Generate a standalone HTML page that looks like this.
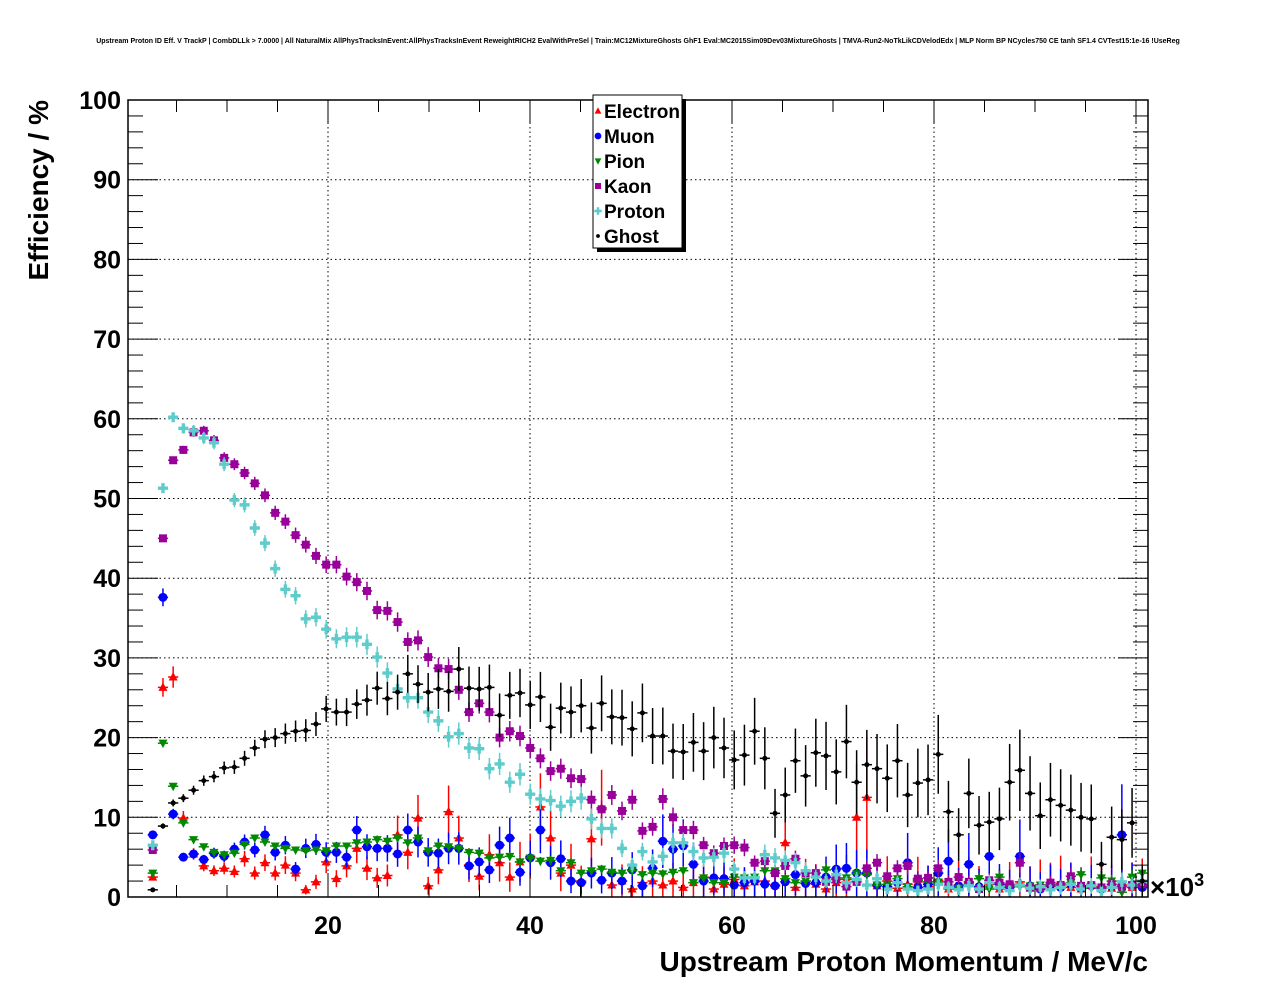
<!DOCTYPE html>
<html><head><meta charset="utf-8"><style>
html,body{margin:0;padding:0;background:#fff;}
svg{display:block;font-family:"Liberation Sans",sans-serif;}
</style></head><body>
<svg id="chart" width="1276" height="996" viewBox="0 0 1276 996" xmlns="http://www.w3.org/2000/svg">
<rect x="0" y="0" width="1276" height="996" fill="#fff"/>
<text x="638" y="43" font-size="7" font-weight="bold" text-anchor="middle">Upstream Proton ID Eff. V TrackP | CombDLLk &gt; 7.0000 | All NaturalMix AllPhysTracksInEvent:AllPhysTracksInEvent ReweightRICH2 EvalWithPreSel | Train:MC12MixtureGhosts GhF1 Eval:MC2015Sim09Dev03MixtureGhosts | TMVA-Run2-NoTkLikCDVelodEdx | MLP Norm BP NCycles750 CE tanh SF1.4 CVTest15:1e-16 !UseReg</text>
<g id="grid"></g>
<g id="marks"></g>
<rect x="128" y="100" width="1020" height="797" fill="none" stroke="#000" stroke-width="1.5"/>
<g id="axes"></g>
<text x="1150" y="896" font-size="26" font-weight="bold">×10<tspan font-size="18" dy="-10">3</tspan></text>
<text x="1148" y="971" font-size="28" font-weight="bold" text-anchor="end">Upstream Proton Momentum / MeV/c</text>
<text transform="translate(48,100) rotate(-90)" font-size="28" font-weight="bold" text-anchor="end">Efficiency / %</text>
<g id="legend">
<rect x="597" y="99" width="89" height="153" fill="#000"/>
<rect x="593" y="95" width="89" height="153" fill="#fff" stroke="#000" stroke-width="1"/>
</g>
</svg>
<script>
const binStart = 2.65, binStep = 1.01;
const electron = [2.5,26.3,27.6,9.9,5.4,3.9,3.3,3.6,3.2,4.8, 3.0,4.3,3.0,4.0,3.0,0.9,1.9,4.4,2.3,3.9, 6.1,3.6,2.4,2.7,7.8,5.6,9.9,1.4,3.4,10.7, 7.4,4.0,2.6,5.3,4.3,2.5,4.4,5.1,11.3,7.4, 3.0,4.0,2.0,7.3,11.2,1.5,2.0,1.0,1.8,2.0, 1.5,2.0,1.2,1.8,2.5,1.0,1.6,2.2,1.4,1.9, 2.0,1.5,6.8,1.2,2.0,1.6,1.0,1.8,2.2,10.0, 12.5,1.4,2.0,1.1,1.6,1.9,1.3,2.1,1.0,1.5, 1.8,1.2,1.6,1.0,1.4,1.9,1.1,1.5,1.3,1.7, 1.2,1.0,1.6,1.3,1.1,1.5,1.2,1.4];
const muon = [7.8,37.6,10.4,5.0,5.4,4.7,5.5,5.1,6.0,6.9, 5.9,7.8,5.6,6.5,3.5,6.1,6.6,5.6,5.6,5.0, 8.4,6.3,6.1,6.1,5.4,8.4,6.9,5.6,5.5,6.1, 6.1,3.9,4.4,3.4,6.5,7.4,3.1,4.9,8.4,4.3, 4.8,2.0,1.8,3.0,2.1,3.0,2.0,3.4,1.4,3.6, 7.0,6.0,6.4,4.1,2.0,2.4,2.3,1.5,1.8,2.0, 1.6,1.4,1.9,2.8,1.7,1.8,2.5,3.5,3.6,3.0, 3.0,1.5,1.3,1.8,4.3,1.2,1.6,3.0,4.5,1.4, 4.1,1.3,5.1,1.6,1.2,5.1,1.4,1.0,1.5,1.2, 1.6,1.1,1.4,1.0,1.3,7.8,1.5,1.2];
const pion = [3.0,19.3,13.9,9.3,7.2,6.3,5.6,5.3,5.5,6.6, 7.4,6.9,6.4,6.1,5.9,5.8,5.9,5.8,6.4,6.4, 6.8,6.9,7.2,7.0,7.4,6.8,7.4,5.8,6.4,6.3, 6.1,5.6,5.5,4.9,5.0,5.1,4.4,4.9,4.5,4.6, 3.3,4.3,3.0,3.3,3.5,3.1,3.0,3.3,2.8,3.0, 2.9,3.1,3.3,1.8,2.4,1.8,1.8,2.5,2.4,2.5, 3.3,3.3,2.3,1.8,2.0,2.5,3.4,2.4,2.4,2.9, 2.8,1.5,1.6,2.3,1.3,2.1,1.9,1.9,1.1,1.1, 1.6,2.3,1.0,2.5,1.4,1.3,1.4,1.5,1.5,1.1, 1.8,2.8,1.1,2.4,2.0,0.6,2.5,3.0];
const kaon = [5.9,45.0,54.8,56.1,58.3,58.5,57.3,55.1,54.3,53.2, 51.9,50.4,48.2,47.1,45.4,44.2,42.8,41.7,41.7,40.2, 39.5,38.4,36.0,35.9,34.5,32.0,32.2,30.1,28.7,28.6, 26.0,23.2,24.3,23.2,20.0,20.8,20.2,18.7,17.4,15.8, 16.1,14.9,14.8,12.2,11.0,12.8,10.8,12.2,8.3,8.8, 12.3,10.0,8.4,8.4,6.5,5.5,6.4,6.5,6.2,4.3, 4.5,3.0,3.9,4.8,3.0,3.0,1.9,2.2,1.3,1.9, 3.6,4.3,2.6,3.6,3.9,2.3,2.4,3.6,1.9,2.5, 1.9,1.0,2.1,1.8,1.6,4.3,1.2,1.1,1.8,1.5, 2.6,1.4,1.5,1.2,1.6,1.3,1.5,1.6];
const proton = [6.5,51.3,60.2,58.8,58.5,57.6,57.0,54.3,49.8,49.2, 46.3,44.4,41.2,38.6,37.8,34.9,35.1,33.6,32.4,32.6, 32.6,31.7,30.1,28.1,26.1,25.0,25.0,23.2,22.1,20.1, 20.5,18.7,18.6,16.1,16.7,14.4,15.4,12.9,12.3,12.1, 11.4,12.0,12.4,9.8,8.6,8.6,6.1,4.0,5.7,4.4, 5.1,6.8,6.8,5.7,4.9,5.0,5.5,3.5,2.4,2.4, 5.3,4.9,4.6,4.3,3.3,2.5,2.0,2.8,1.8,2.2, 1.5,2.3,1.0,1.8,1.0,0.8,1.0,1.6,1.2,0.9, 1.4,1.0,1.8,1.2,0.8,1.5,1.1,1.3,0.9,1.2, 1.6,1.0,1.4,0.8,1.2,1.9,1.5,2.0];
const ghost = [0.9,8.9,11.8,12.4,13.4,14.6,15.1,16.2,16.3,17.4, 18.7,19.8,20.0,20.5,20.8,20.9,21.7,23.6,23.2,23.2, 24.2,24.7,26.2,24.9,25.7,28.0,26.7,25.7,26.1,25.8, 28.6,26.2,26.1,26.3,22.8,25.3,25.6,24.1,25.1,21.3, 23.7,23.2,24.0,21.2,24.3,22.6,22.5,21.1,23.1,20.2, 20.2,18.3,18.2,19.4,18.3,20.0,18.7,17.2,17.8,20.8, 17.4,10.5,12.8,17.1,15.2,18.1,17.7,15.7,19.5,14.4, 16.6,16.1,14.9,17.1,12.8,14.3,14.7,17.9,10.7,7.8, 13.0,9.0,9.4,9.8,14.4,15.9,13.0,10.2,12.2,11.5, 10.9,10.0,9.8,4.1,7.5,7.2,9.3,2.0];
const xTicks = [20,40,60,80,100];
const yTicks = [0,10,20,30,40,50,60,70,80,90,100];
const legendNames = ["Electron","Muon","Pion","Kaon","Proton","Ghost"];

const NS = "http://www.w3.org/2000/svg";
const X0 = 126, XS = 10.1, Y0 = 897, YS = 7.97;
const xp = v => X0 + v * XS;
const yp = v => Y0 - v * YS;
function mk(tag, attrs, parent) {
  const e = document.createElementNS(NS, tag);
  for (const k in attrs) e.setAttribute(k, attrs[k]);
  parent.appendChild(e);
  return e;
}
const grid = document.getElementById('grid');
const axes = document.getElementById('axes');
const marks = document.getElementById('marks');

xTicks.forEach(t => {
  const l = mk('line', {x1: xp(t), x2: xp(t), y1: 100, y2: 897, stroke: '#000', 'stroke-width': 1, 'stroke-dasharray': '1.5,3'}, grid);
  
  
});
yTicks.forEach(t => {
  if (t === 0 || t === 100) return;
  const l = mk('line', {x1: 128, x2: 1148, y1: yp(t), y2: yp(t), stroke: '#000', 'stroke-width': 1, 'stroke-dasharray': '1.5,3'}, grid);
  
  
});
for (let v = 0; v <= 100; v += 2) {
  const major = v % 10 === 0;
  const len = major ? 30 : 15;
  mk('line', {x1: 128, x2: 128 + len, y1: yp(v), y2: yp(v), stroke: '#000', 'stroke-width': 1}, axes);
  mk('line', {x1: 1148, x2: 1148 - len, y1: yp(v), y2: yp(v), stroke: '#000', 'stroke-width': 1}, axes);
}
for (let v = 5; v <= 100; v += 5) {
  const major = v % 20 === 0;
  const len = major ? 24 : 12;
  mk('line', {x1: xp(v), x2: xp(v), y1: 897, y2: 897 - len, stroke: '#000', 'stroke-width': 1}, axes);
  mk('line', {x1: xp(v), x2: xp(v), y1: 100, y2: 100 + len, stroke: '#000', 'stroke-width': 1}, axes);
}
yTicks.forEach(t => {
  const tx = mk('text', {x: 121, y: yp(t) + 9, 'font-size': 25, 'font-weight': 'bold', 'text-anchor': 'end'}, axes);
  tx.textContent = t;
  
  
});
xTicks.forEach(t => {
  const tx = mk('text', {x: xp(t), y: 934, 'font-size': 25, 'font-weight': 'bold', 'text-anchor': 'middle'}, axes);
  tx.textContent = t;
  
  
});

function marker(kind, cx, cy, color, parent, s) {
  s = s || 1;
  if (kind === 'tri') return mk('polygon', {points: `${cx},${cy-5*s} ${cx-4.5*s},${cy+3.5*s} ${cx+4.5*s},${cy+3.5*s}`, fill: color}, parent);
  if (kind === 'tridown') return mk('polygon', {points: `${cx},${cy+5*s} ${cx-4.5*s},${cy-3.5*s} ${cx+4.5*s},${cy-3.5*s}`, fill: color}, parent);
  if (kind === 'circ') return mk('circle', {cx: cx, cy: cy, r: 4.5*s, fill: color}, parent);
  if (kind === 'sq') return mk('rect', {x: cx-4*s, y: cy-4*s, width: 8*s, height: 8*s, fill: color}, parent);
  if (kind === 'cross') return mk('path', {d: `M${cx-5*s},${cy-1.7*s}h${3.3*s}v${-3.3*s}h${3.4*s}v${3.3*s}h${3.3*s}v${3.4*s}h${-3.3*s}v${3.3*s}h${-3.4*s}v${-3.3*s}h${-3.3*s}z`, fill: color}, parent);
  return mk('circle', {cx: cx, cy: cy, r: 2.5*s, fill: color}, parent);
}

const series = [
  {name: 'electron', vals: electron, color: '#ff0000', kind: 'tri', ek: 0.5},
  {name: 'muon', vals: muon, color: '#0000ff', kind: 'circ', ek: 0.4},
  {name: 'pion', vals: pion, color: '#008800', kind: 'tridown', ek: 0.1},
  {name: 'kaon', vals: kaon, color: '#990099', kind: 'sq', ek: 0.12},
  {name: 'proton', vals: proton, color: '#5fcccc', kind: 'cross', ek: 0.15},
  {name: 'ghost', vals: ghost, color: '#000000', kind: 'dot', ek: 0.25}
];
series.forEach(sr => {
  const g = mk('g', {}, marks);
  
  
  sr.vals.forEach((v, i) => {
    const p = binStart + i * binStep;
    const cx = xp(p), cy = yp(v);
    const err = sr.ek * Math.sqrt(Math.max(v, 0.5)) * (0.4 + i / 18);
    const pt = mk('g', {}, g);
    
    
    mk('line', {x1: xp(p - binStep/2), x2: xp(p + binStep/2), y1: cy, y2: cy, stroke: sr.color, 'stroke-width': 1.5}, pt);
    mk('line', {x1: cx, x2: cx, y1: Math.max(100, yp(v + err)), y2: Math.min(897, yp(v - err)), stroke: sr.color, 'stroke-width': 1.5}, pt);
    marker(sr.kind, cx, cy, sr.color, pt);
  });
});

const leg = document.getElementById('legend');
legendNames.forEach((n, i) => {
  const y = 111 + i * 25;
  const sr = series[i];
  const ge = mk('g', {}, leg);
  
  
  marker(sr.kind, 598, y, sr.color, ge, 0.75);
  const t = mk('text', {x: 604, y: y + 7, 'font-size': 19, 'font-weight': 'bold'}, ge);
  t.textContent = n;
});
</script>
</body></html>
